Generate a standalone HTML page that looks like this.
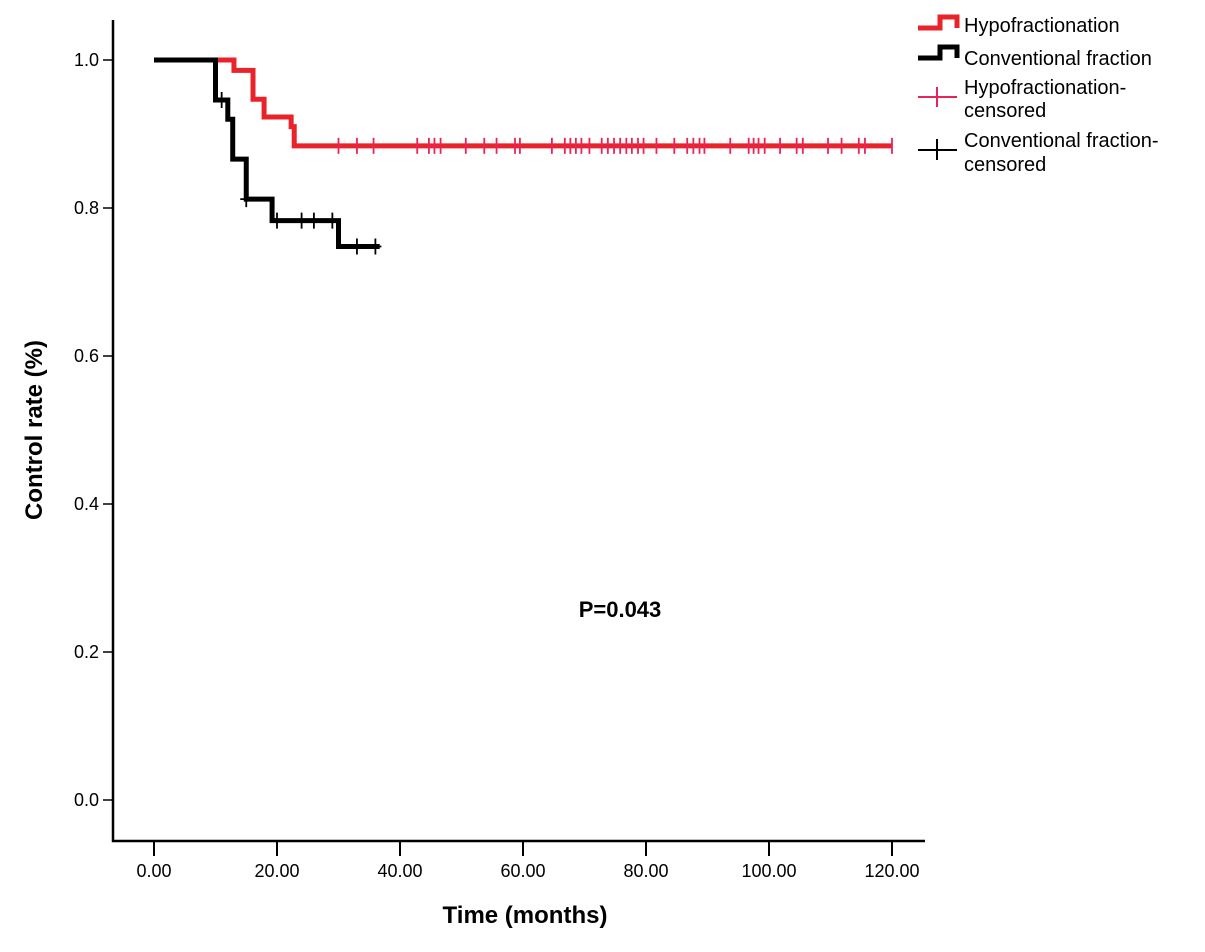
<!DOCTYPE html>
<html><head><meta charset="utf-8"><style>
body{margin:0;background:#fff;}
svg{display:block;font-family:"Liberation Sans",Arial,sans-serif;}
</style></head><body>
<svg id="chart" width="1205" height="952">
<g id="axes"></g>
<g id="plot"></g>
<text x="620" y="617" font-size="22" font-weight="bold" text-anchor="middle">P=0.043</text>
<text x="525" y="923" font-size="24" font-weight="bold" text-anchor="middle">Time (months)</text>
<text transform="translate(42,430) rotate(-90)" font-size="24" font-weight="bold" text-anchor="middle">Control  rate (%)</text>
<g>
<g><path d="M918,28 H940 V17 H957 V28" fill="none" stroke="#e8232a" stroke-width="5"/><text x="964" y="32" font-size="20">Hypofractionation</text></g>
<g><path d="M918,58 H940 V47 H957 V58" fill="none" stroke="#000" stroke-width="5"/><text x="964" y="65" font-size="20">Conventional fraction</text></g>
<g><path d="M918,97 H957 M937,87 V107" stroke="#e8235a" stroke-width="2"/><text x="964" y="94" font-size="20">Hypofractionation-</text><text x="964" y="117" font-size="20">censored</text></g>
<g><path d="M918,150 H957 M937,139 V160" stroke="#000" stroke-width="2"/><text x="964" y="147" font-size="20">Conventional fraction-</text><text x="964" y="171" font-size="20">censored</text></g>
</g>
</svg>
<script>
const xTicks=[0,20,40,60,80,100,120];
const yTicks=[0,0.2,0.4,0.6,0.8,1.0];
const hypoTimes=[0,13,16.1,17.9,22.3,22.8,120];
const hypoSurv=[1.0,0.986,0.947,0.923,0.91,0.884,0.884];
const hypoCensor=[30,33,35.7,42.8,44.7,45.6,46.6,50.7,53.7,55.7,58.7,59.5,64.7,66.8,67.7,68.6,69.5,70.8,72.8,73.8,74.8,75.8,76.8,77.7,78.7,79.6,81.7,84.6,86.7,87.7,88.7,89.5,93.7,96.7,97.5,98.3,99.3,101.8,104.5,105.5,109.6,111.8,114.6,115.6,120];
const convTimes=[0,10,12,12.8,15,19.2,30,36.7];
const convSurv=[1.0,0.946,0.92,0.866,0.812,0.783,0.748,0.748];
const convCensor=[11,15,20,24,26,29,33,36];
const convCensorSurv=[0.946,0.812,0.783,0.783,0.783,0.783,0.748,0.748];
const X=t=>154+t*6.15, Y=v=>800-v*740;
const NS="http://www.w3.org/2000/svg";
const ax=document.getElementById('axes'), pl=document.getElementById('plot');
function mk(tag,attrs,parent){const e=document.createElementNS(NS,tag);for(const k in attrs)e.setAttribute(k,attrs[k]);parent.appendChild(e);return e;}
let a=mk('path',{d:'M113,20 V841 H925',fill:'none',stroke:'#000','stroke-width':2.5},ax);


xTicks.forEach(t=>{
 const l=mk('line',{x1:X(t),x2:X(t),y1:841,y2:856,stroke:'#000','stroke-width':2},ax);
 
 
 const tx=mk('text',{x:X(t),y:877,'font-size':18,'text-anchor':'middle'},ax);tx.textContent=t.toFixed(2);
 
 
});
yTicks.forEach(v=>{
 const l=mk('line',{x1:103,x2:113,y1:Y(v),y2:Y(v),stroke:'#000','stroke-width':1.5},ax);
 
 
 const tx=mk('text',{x:99,y:Y(v)+6,'font-size':18,'text-anchor':'end'},ax);tx.textContent=v.toFixed(1);
 
 
});
function stepPath(ts,ss){let d=`M${X(ts[0])},${Y(ss[0])}`;for(let i=1;i<ts.length;i++){d+=` H${X(ts[i])} V${Y(ss[i])}`;}return d;}
function survAt(ts,ss,t){let s=ss[0];for(let i=0;i<ts.length;i++){if(ts[i]<=t)s=ss[i];}return s;}
const hp=mk('path',{d:stepPath(hypoTimes,hypoSurv),fill:'none',stroke:'#e8232a','stroke-width':5},pl);


const cp=mk('path',{d:stepPath(convTimes,convSurv),fill:'none',stroke:'#000','stroke-width':5},pl);


hypoCensor.forEach(t=>{
 const y=Y(survAt(hypoTimes,hypoSurv,t));
 const m=mk('line',{x1:X(t),x2:X(t),y1:y-8,y2:y+8,stroke:'#e8235a','stroke-width':1.8},pl);
 
 
});
convCensor.forEach((t,i)=>{
 const y=Y(convCensorSurv[i]);
 const m=mk('path',{d:`M${X(t)},${y-8} V${y+8} M${X(t)-6},${y} H${X(t)+6}`,stroke:'#000','stroke-width':1.8},pl);
 
 
});
</script>
</body></html>
